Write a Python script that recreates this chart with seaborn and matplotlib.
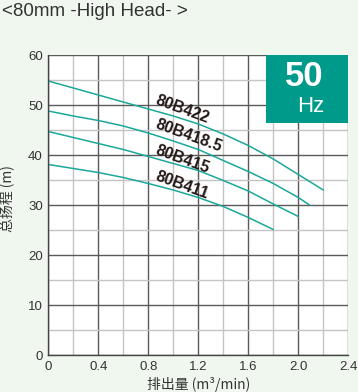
import pandas as pd
import seaborn as sns
import matplotlib.pyplot as plt
from matplotlib.ticker import MultipleLocator
from matplotlib.patches import Rectangle

# Pump curves (flow m3/min, head m)
models = ['80B422', '80B418.5', '80B415', '80B411']
flow_422 = [0, 0.2, 0.4, 0.6, 0.8, 1.0, 1.2, 1.4, 1.6, 1.8, 2.0, 2.2]
head_422 = [54.8, 53.4, 52.0, 50.6, 49.2, 47.8, 46.2, 44.2, 41.9, 39.2, 36.1, 33.0]
flow_418 = [0, 0.2, 0.4, 0.6, 0.8, 1.0, 1.2, 1.4, 1.6, 1.8, 2.0, 2.09]
head_418 = [48.8, 47.8, 46.9, 45.8, 44.4, 42.8, 41.1, 38.9, 36.7, 34.3, 31.5, 30.0]
flow_415 = [0, 0.2, 0.4, 0.6, 0.8, 1.0, 1.2, 1.4, 1.6, 1.8, 2.0]
head_415 = [44.7, 43.5, 42.3, 41.1, 39.7, 38.3, 36.9, 34.9, 32.8, 30.2, 27.7]
flow_411 = [0, 0.2, 0.4, 0.6, 0.8, 1.0, 1.2, 1.4, 1.6, 1.8]
head_411 = [38.1, 37.3, 36.5, 35.5, 34.3, 33.0, 31.5, 29.7, 27.5, 25.1]

# label baseline start (data coords)
label_x = [0.85, 0.85, 0.85, 0.85]
label_y = [50.3, 45.3, 40.3, 35.0]

xticks = [0, 0.4, 0.8, 1.2, 1.6, 2.0, 2.4]
xticklabels = ['0', '0.4', '0.8', '1.2', '1.6', '2.0', '2.4']
yticks = [0, 10, 20, 30, 40, 50, 60]

frames = []
for m, fx, hy in zip(models, [flow_422, flow_418, flow_415, flow_411],
                     [head_422, head_418, head_415, head_411]):
    frames.append(pd.DataFrame({'flow': fx, 'head': hy, 'model': m}))
df = pd.concat(frames, ignore_index=True)

sns.set_style('white')
plt.rcParams['font.family'] = ['Liberation Sans', 'Noto Sans CJK SC', 'DejaVu Sans']

bg = '#f0f7ef'
teal_line = '#1aa89b'
teal_box = '#009a8b'
txt = '#333333'

fig = plt.figure(figsize=(3.58, 3.92), dpi=100, facecolor=bg)
ax = fig.add_axes([48.3 / 358, 1 - 355 / 392, 300 / 358, 300 / 392])
ax.set_facecolor('white')

_ = sns.lineplot(data=df, x='flow', y='head', hue='model', hue_order=models,
                 palette=[teal_line] * 4, linewidth=1.1, legend=False,
                 sort=True, estimator=None, ax=ax)

ax.set_xlim(0, 2.4)
ax.set_ylim(0, 60)
ax.xaxis.set_minor_locator(MultipleLocator(0.2))
ax.yaxis.set_minor_locator(MultipleLocator(5))
ax.set_xticks(xticks)
ax.set_xticklabels(xticklabels)
ax.set_yticks(yticks)
ax.grid(which='major', color='#5a5a5a', lw=1.0)
ax.grid(which='minor', color='#c4c4c4', lw=1.0)
ax.set_axisbelow(True)
ax.tick_params(which='both', length=0, labelsize=9.5, colors=txt)
ax.tick_params(axis='y', pad=4)
ax.tick_params(axis='x', pad=4)
for s in ['left', 'bottom']:
    ax.spines[s].set_color('#444444')
    ax.spines[s].set_linewidth(1.0)
for s in ['top', 'right']:
    ax.spines[s].set_visible(False)

ax.set_xlabel('排出量 (m³/min)', fontsize=10, color=txt,
              family=['Noto Sans CJK SC', 'DejaVu Sans'], labelpad=3)
ax.set_ylabel('总扬程 (m)', fontsize=10, color=txt,
              family=['Noto Sans CJK SC', 'DejaVu Sans'])
ax.yaxis.set_label_coords(-0.115, 0.52)

# curve labels
for m, lx, ly in zip(models, label_x, label_y):
    ax.text(lx, ly, m, rotation=-20, ha='left', va='baseline',
            fontsize=11.5, fontweight='bold', color='#231815', rotation_mode='anchor')

# 50Hz badge
ax.add_patch(Rectangle((0.726, 0.773), 0.274, 0.227, transform=ax.transAxes,
                       facecolor=teal_box, edgecolor='none', zorder=5, clip_on=False))
ax.text(0.853, 0.927, '50', transform=ax.transAxes, ha='center', va='center',
        fontsize=25, fontweight='bold', color='white', zorder=6)
ax.text(0.876, 0.83, 'Hz', transform=ax.transAxes, ha='center', va='center',
        fontsize=16, color='white', zorder=6)

fig.text(2 / 358, 1 - 11 / 392, '<80mm -High Head- >', ha='left', va='center',
         fontsize=13.5, color=txt)

plt.savefig('out.png', dpi=100, facecolor=bg)
